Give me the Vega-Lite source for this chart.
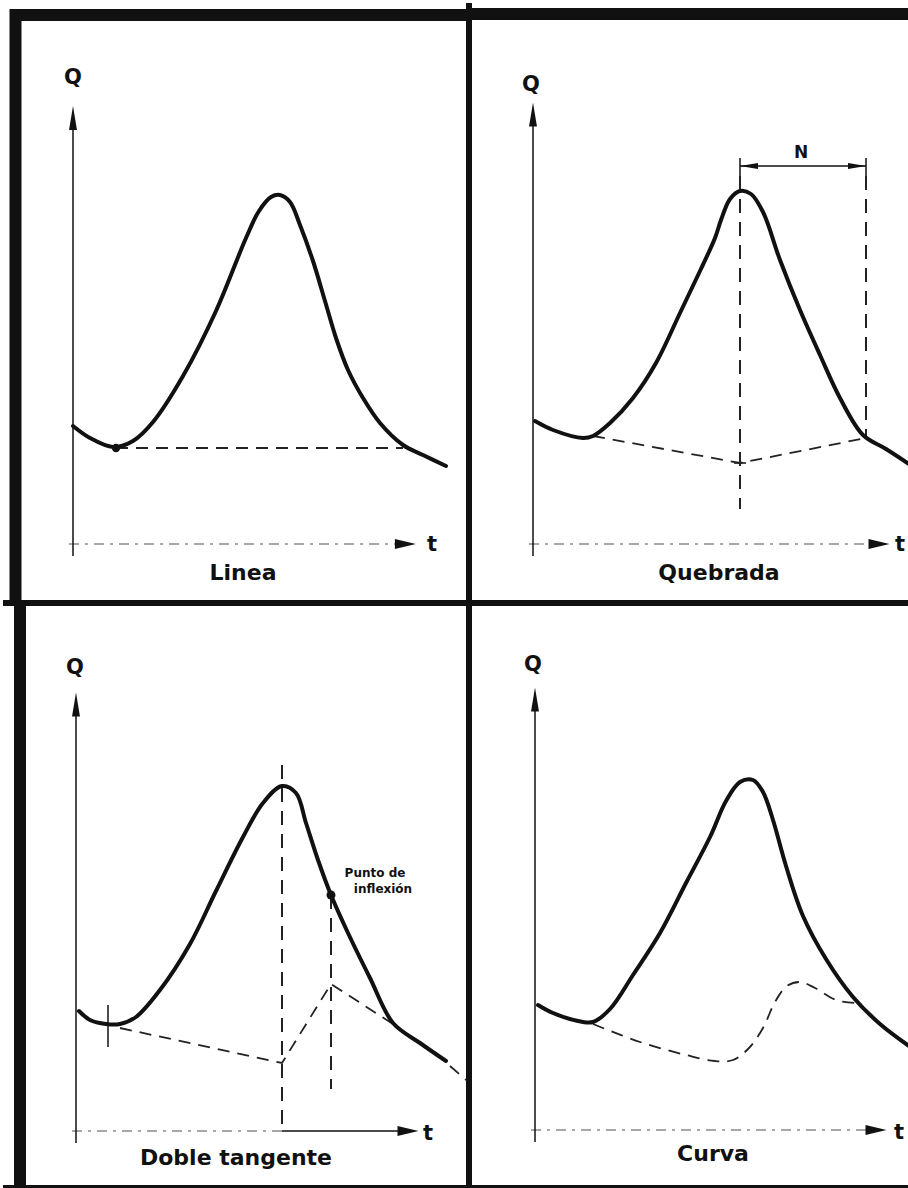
{
  "$schema": "https://vega.github.io/schema/vega-lite/v6.json",
  "autosize": {"type": "pad"},
  "padding": 0,
  "background": "white",
  "config": {"view": {"stroke": null}, "concat": {"spacing": 0}},
  "datasets": {
    "d": [
      {"p":"A","k":"f12","t":-15.75,"t2":99,"Q":132.25,"Q2":132.25},
      {"p":"A","k":"f12","t":-14.375,"t2":-14.375,"Q":133.75,"Q2":-14.75},
      {"p":"A","k":"f6","t":99,"t2":99,"Q":135.25,"Q2":-14.75},
      {"p":"A","k":"f6","t":-17.5,"t2":99,"Q":-14.75,"Q2":-14.75},
      {"p":"A","k":"ax","t":0,"t2":0,"Q":-3,"Q2":106},
      {"p":"A","k":"ta","t":-1,"t2":82,"Q":0,"Q2":0},
      {"p":"A","k":"up","t":0,"Q":106.5},
      {"p":"A","k":"rt","t":83.1,"Q":0},
      {"p":"A","k":"ds","s":1,"t":10.75,"Q":24},
      {"p":"A","k":"ds","s":1,"t":82.5,"Q":24},
      {"p":"A","k":"dot","t":10.75,"Q":24},
      {"p":"A","k":"lab","t":0,"Q":116.5,"txt":"Q"},
      {"p":"A","k":"lab","t":89.75,"Q":-0.25,"txt":"t"},
      {"p":"A","k":"ttl","t":42.5,"Q":-7.25,"txt":"Linea"},
      {"p":"A","k":"cv","s":1,"t":0,"Q":29.5},
      {"p":"A","k":"cv","s":1,"t":4.25,"Q":26.5},
      {"p":"A","k":"cv","s":1,"t":10,"Q":24.25},
      {"p":"A","k":"cv","s":1,"t":15,"Q":25.75},
      {"p":"A","k":"cv","s":1,"t":20,"Q":30.5},
      {"p":"A","k":"cv","s":1,"t":27.5,"Q":42},
      {"p":"A","k":"cv","s":1,"t":35.75,"Q":58.25},
      {"p":"A","k":"cv","s":1,"t":43.25,"Q":76.5},
      {"p":"A","k":"cv","s":1,"t":46.5,"Q":83.25},
      {"p":"A","k":"cv","s":1,"t":49.5,"Q":86.75},
      {"p":"A","k":"cv","s":1,"t":51.75,"Q":87.25},
      {"p":"A","k":"cv","s":1,"t":54.25,"Q":85.5},
      {"p":"A","k":"cv","s":1,"t":56.75,"Q":79.75},
      {"p":"A","k":"cv","s":1,"t":60,"Q":70.75},
      {"p":"A","k":"cv","s":1,"t":63,"Q":60.75},
      {"p":"A","k":"cv","s":1,"t":65.75,"Q":51.5},
      {"p":"A","k":"cv","s":1,"t":68.75,"Q":43.5},
      {"p":"A","k":"cv","s":1,"t":72.5,"Q":36.5},
      {"p":"A","k":"cv","s":1,"t":76.75,"Q":30.25},
      {"p":"A","k":"cv","s":1,"t":82.5,"Q":24.75},
      {"p":"A","k":"cv","s":1,"t":87.5,"Q":22.25},
      {"p":"A","k":"cv","s":1,"t":93.25,"Q":19.5},

      {"p":"B","k":"f12","t":-16,"t2":94.5,"Q":132.5,"Q2":132.5},
      {"p":"B","k":"f6","t":-16,"t2":94.5,"Q":-14.75,"Q2":-14.75},
      {"p":"B","k":"ax","t":0,"t2":0,"Q":-3,"Q2":107},
      {"p":"B","k":"ax","t":51.75,"t2":83.25,"Q":94.5,"Q2":94.5},
      {"p":"B","k":"ax","t":51.75,"t2":51.75,"Q":92,"Q2":96.5},
      {"p":"B","k":"ax","t":83.25,"t2":83.25,"Q":92,"Q2":96.5},
      {"p":"B","k":"ax","t":50.25,"t2":53.25,"Q":20.25,"Q2":20.25},
      {"p":"B","k":"vd","t":51.75,"t2":51.75,"Q":92,"Q2":8.75},
      {"p":"B","k":"vd","t":83.25,"t2":83.25,"Q":92,"Q2":26.5},
      {"p":"B","k":"ta","t":-1,"t2":84,"Q":0,"Q2":0},
      {"p":"B","k":"up","t":0,"Q":107.4},
      {"p":"B","k":"rt","t":86.5,"Q":0},
      {"p":"B","k":"lf","t":54,"Q":94.5},
      {"p":"B","k":"rn","t":81,"Q":94.5},
      {"p":"B","k":"ds","s":1,"t":15,"Q":27},
      {"p":"B","k":"ds","s":1,"t":51.75,"Q":20.25},
      {"p":"B","k":"ds","s":1,"t":83.25,"Q":26.5},
      {"p":"B","k":"lab","t":-0.5,"Q":114.75,"txt":"Q"},
      {"p":"B","k":"lab","t":91.75,"Q":-0.25,"txt":"t"},
      {"p":"B","k":"lb2","t":67,"Q":97.75,"txt":"N"},
      {"p":"B","k":"ttl","t":46.5,"Q":-7.25,"txt":"Quebrada"},
      {"p":"B","k":"cv","s":1,"t":0.5,"Q":30.75},
      {"p":"B","k":"cv","s":1,"t":5,"Q":28.5},
      {"p":"B","k":"cv","s":1,"t":12.5,"Q":26.5},
      {"p":"B","k":"cv","s":1,"t":15,"Q":27},
      {"p":"B","k":"cv","s":1,"t":19.25,"Q":30.25},
      {"p":"B","k":"cv","s":1,"t":25,"Q":36.5},
      {"p":"B","k":"cv","s":1,"t":30.75,"Q":45.25},
      {"p":"B","k":"cv","s":1,"t":36.75,"Q":57.75},
      {"p":"B","k":"cv","s":1,"t":41.75,"Q":68.25},
      {"p":"B","k":"cv","s":1,"t":45.5,"Q":76.5},
      {"p":"B","k":"cv","s":1,"t":47,"Q":81},
      {"p":"B","k":"cv","s":1,"t":49.25,"Q":86.25},
      {"p":"B","k":"cv","s":1,"t":51.75,"Q":88.25},
      {"p":"B","k":"cv","s":1,"t":54.5,"Q":87.5},
      {"p":"B","k":"cv","s":1,"t":57.5,"Q":83},
      {"p":"B","k":"cv","s":1,"t":61.75,"Q":71},
      {"p":"B","k":"cv","s":1,"t":66.75,"Q":58.5},
      {"p":"B","k":"cv","s":1,"t":71.75,"Q":47.25},
      {"p":"B","k":"cv","s":1,"t":76.75,"Q":36.5},
      {"p":"B","k":"cv","s":1,"t":82.5,"Q":27.25},
      {"p":"B","k":"cv","s":1,"t":88.25,"Q":23.75},
      {"p":"B","k":"cv","s":1,"t":94,"Q":20},

      {"p":"C","k":"f12","t":-14,"t2":-14,"Q":132,"Q2":-15},
      {"p":"C","k":"f6","t":98.25,"t2":98.25,"Q":132,"Q2":-15},
      {"p":"C","k":"f6","t":-18.25,"t2":98.25,"Q":-14.25,"Q2":-14.25},
      {"p":"C","k":"ax","t":0,"t2":0,"Q":-3,"Q2":106},
      {"p":"C","k":"ax","t":8,"t2":8,"Q":21,"Q2":31.5},
      {"p":"C","k":"ax","t":51.5,"t2":81,"Q":0,"Q2":0},
      {"p":"C","k":"vd","t":51.5,"t2":51.5,"Q":91.5,"Q2":0},
      {"p":"C","k":"vd","t":63.75,"t2":63.75,"Q":59,"Q2":10.5},
      {"p":"C","k":"ta","t":-1,"t2":51.5,"Q":0,"Q2":0},
      {"p":"C","k":"up","t":0,"Q":106.6},
      {"p":"C","k":"rt","t":83,"Q":0},
      {"p":"C","k":"ds","s":1,"t":11,"Q":25.75},
      {"p":"C","k":"ds","s":1,"t":51.5,"Q":17},
      {"p":"C","k":"ds","s":1,"t":63.75,"Q":36.75},
      {"p":"C","k":"ds","s":1,"t":79.25,"Q":26.75},
      {"p":"C","k":"ds","s":2,"t":93.5,"Q":16.25},
      {"p":"C","k":"ds","s":2,"t":97.5,"Q":12.75},
      {"p":"C","k":"dot","t":63.75,"Q":59},
      {"p":"C","k":"lab","t":-0.25,"Q":115.75,"txt":"Q"},
      {"p":"C","k":"lab","t":88,"Q":-0.75,"txt":"t"},
      {"p":"C","k":"nt","t":74.75,"Q":64.5,"txt":"Punto de"},
      {"p":"C","k":"nt","t":76.75,"Q":60.5,"txt":"inflexión"},
      {"p":"C","k":"ttl","t":40,"Q":-6.75,"txt":"Doble tangente"},
      {"p":"C","k":"cv","s":1,"t":0.75,"Q":30},
      {"p":"C","k":"cv","s":1,"t":3.5,"Q":27.75},
      {"p":"C","k":"cv","s":1,"t":7.5,"Q":26.75},
      {"p":"C","k":"cv","s":1,"t":11,"Q":26.75},
      {"p":"C","k":"cv","s":1,"t":15,"Q":28.5},
      {"p":"C","k":"cv","s":1,"t":21,"Q":35.25},
      {"p":"C","k":"cv","s":1,"t":28.5,"Q":46.75},
      {"p":"C","k":"cv","s":1,"t":35,"Q":60},
      {"p":"C","k":"cv","s":1,"t":41.75,"Q":73.5},
      {"p":"C","k":"cv","s":1,"t":46.75,"Q":82},
      {"p":"C","k":"cv","s":1,"t":51.5,"Q":86.25},
      {"p":"C","k":"cv","s":1,"t":55,"Q":84.5},
      {"p":"C","k":"cv","s":1,"t":57.5,"Q":77},
      {"p":"C","k":"cv","s":1,"t":60.5,"Q":67.75},
      {"p":"C","k":"cv","s":1,"t":63.75,"Q":59},
      {"p":"C","k":"cv","s":1,"t":68,"Q":49.5},
      {"p":"C","k":"cv","s":1,"t":73.5,"Q":38.25},
      {"p":"C","k":"cv","s":1,"t":79.25,"Q":27},
      {"p":"C","k":"cv","s":1,"t":86,"Q":22},
      {"p":"C","k":"cv","s":1,"t":92.5,"Q":17.5},

      {"p":"D","k":"f6","t":-16.5,"t2":94,"Q":-14.5,"Q2":-14.5},
      {"p":"D","k":"ax","t":0,"t2":0,"Q":-3,"Q2":107},
      {"p":"D","k":"ta","t":-1,"t2":83,"Q":0,"Q2":0},
      {"p":"D","k":"up","t":0,"Q":107.6},
      {"p":"D","k":"rt","t":85.25,"Q":0},
      {"p":"D","k":"lab","t":-0.5,"Q":116.25,"txt":"Q"},
      {"p":"D","k":"lab","t":91,"Q":-0.75,"txt":"t"},
      {"p":"D","k":"ttl","t":44.5,"Q":-6,"txt":"Curva"},
      {"p":"D","k":"ds","s":1,"t":14.5,"Q":26.5},
      {"p":"D","k":"ds","s":1,"t":26.25,"Q":22},
      {"p":"D","k":"ds","s":1,"t":37.75,"Q":18.75},
      {"p":"D","k":"ds","s":1,"t":45,"Q":17.25},
      {"p":"D","k":"ds","s":1,"t":49.5,"Q":17.5},
      {"p":"D","k":"ds","s":1,"t":53.5,"Q":20.5},
      {"p":"D","k":"ds","s":1,"t":57,"Q":25.5},
      {"p":"D","k":"ds","s":1,"t":60,"Q":32},
      {"p":"D","k":"ds","s":1,"t":63,"Q":36},
      {"p":"D","k":"ds","s":1,"t":66.25,"Q":37},
      {"p":"D","k":"ds","s":1,"t":70,"Q":35.5},
      {"p":"D","k":"ds","s":1,"t":75.25,"Q":32.5},
      {"p":"D","k":"ds","s":1,"t":80,"Q":31.75},
      {"p":"D","k":"cv","s":1,"t":0.75,"Q":31.25},
      {"p":"D","k":"cv","s":1,"t":4.5,"Q":29.25},
      {"p":"D","k":"cv","s":1,"t":12,"Q":27},
      {"p":"D","k":"cv","s":1,"t":14.5,"Q":27},
      {"p":"D","k":"cv","s":1,"t":18.75,"Q":30.25},
      {"p":"D","k":"cv","s":1,"t":24.5,"Q":38.75},
      {"p":"D","k":"cv","s":1,"t":31.25,"Q":49.25},
      {"p":"D","k":"cv","s":1,"t":37.75,"Q":61.75},
      {"p":"D","k":"cv","s":1,"t":43.75,"Q":73.25},
      {"p":"D","k":"cv","s":1,"t":47.75,"Q":82.25},
      {"p":"D","k":"cv","s":1,"t":51.25,"Q":87},
      {"p":"D","k":"cv","s":1,"t":54.5,"Q":87.5},
      {"p":"D","k":"cv","s":1,"t":57,"Q":84.5},
      {"p":"D","k":"cv","s":1,"t":59.5,"Q":77.5},
      {"p":"D","k":"cv","s":1,"t":62.75,"Q":66},
      {"p":"D","k":"cv","s":1,"t":67,"Q":53.5},
      {"p":"D","k":"cv","s":1,"t":72.75,"Q":42.75},
      {"p":"D","k":"cv","s":1,"t":79.5,"Q":33.25},
      {"p":"D","k":"cv","s":1,"t":86.25,"Q":26.5},
      {"p":"D","k":"cv","s":1,"t":93.5,"Q":21}
    ]
  },
  "columns": 2,
  "spacing": 0,
  "bounds": "flush",
  "concat": [
    {
      "width": 466, "height": 600,
      "data": {"name": "d"},
      "transform": [{"filter": "datum.p === 'A'"}],
      "encoding": {
        "x": {"field": "t", "type": "quantitative", "scale": {"domain": [-17.5, 99], "nice": false, "zero": false}, "axis": null},
        "y": {"field": "Q", "type": "quantitative", "scale": {"domain": [-14.75, 135.25], "nice": false, "zero": false}, "axis": null}
      },
      "layer": [
        {"transform": [{"filter": "datum.k === 'f12'"}], "mark": {"type": "rule", "strokeWidth": 12, "color": "#111", "strokeCap": "butt"}, "encoding": {"x2": {"field": "t2"}, "y2": {"field": "Q2"}}},
        {"transform": [{"filter": "datum.k === 'f6'"}], "mark": {"type": "rule", "strokeWidth": 6, "color": "#111", "strokeCap": "butt"}, "encoding": {"x2": {"field": "t2"}, "y2": {"field": "Q2"}}},
        {"transform": [{"filter": "datum.k === 'ta'"}], "mark": {"type": "rule", "strokeWidth": 1.5, "color": "#8a8a8a", "strokeDash": [10, 6, 3, 6]}, "encoding": {"x2": {"field": "t2"}, "y2": {"field": "Q2"}}},
        {"transform": [{"filter": "datum.k === 'ax'"}], "mark": {"type": "rule", "strokeWidth": 1.5, "color": "#111"}, "encoding": {"x2": {"field": "t2"}, "y2": {"field": "Q2"}}},
        {"transform": [{"filter": "datum.k === 'ds'"}], "mark": {"type": "line", "strokeWidth": 1.8, "color": "#222", "strokeDash": [12, 8]}, "encoding": {"detail": {"field": "s", "type": "nominal"}}},
        {"transform": [{"filter": "datum.k === 'cv'"}], "mark": {"type": "line", "strokeWidth": 4, "color": "#111", "interpolate": "catmull-rom", "strokeCap": "round"}, "encoding": {"detail": {"field": "s", "type": "nominal"}}},
        {"transform": [{"filter": "datum.k === 'up'"}], "mark": {"type": "point", "shape": "M0,-1L0.33,1L-0.33,1Z", "size": 576, "filled": true, "color": "#111", "opacity": 1}},
        {"transform": [{"filter": "datum.k === 'rt'"}], "mark": {"type": "point", "shape": "M1,0L-1,-0.48L-1,0.48Z", "size": 441, "filled": true, "color": "#111", "opacity": 1}},
        {"transform": [{"filter": "datum.k === 'dot'"}], "mark": {"type": "point", "shape": "circle", "size": 70, "filled": true, "color": "#111", "opacity": 1}},
        {"transform": [{"filter": "datum.k === 'lab'"}], "mark": {"type": "text", "font": "DejaVu Sans", "fontWeight": "bold", "fontSize": 21, "color": "#111", "baseline": "middle", "align": "center"}, "encoding": {"text": {"field": "txt", "type": "nominal"}}},
        {"transform": [{"filter": "datum.k === 'ttl'"}], "mark": {"type": "text", "font": "DejaVu Sans", "fontWeight": "bold", "fontSize": 22, "color": "#111", "baseline": "middle", "align": "center"}, "encoding": {"text": {"field": "txt", "type": "nominal"}}}
      ]
    },
    {
      "width": 442, "height": 600,
      "data": {"name": "d"},
      "transform": [{"filter": "datum.p === 'B'"}],
      "encoding": {
        "x": {"field": "t", "type": "quantitative", "scale": {"domain": [-16, 94.5], "nice": false, "zero": false}, "axis": null},
        "y": {"field": "Q", "type": "quantitative", "scale": {"domain": [-14.75, 135.25], "nice": false, "zero": false}, "axis": null}
      },
      "layer": [
        {"transform": [{"filter": "datum.k === 'f12'"}], "mark": {"type": "rule", "strokeWidth": 12, "color": "#111", "strokeCap": "butt"}, "encoding": {"x2": {"field": "t2"}, "y2": {"field": "Q2"}}},
        {"transform": [{"filter": "datum.k === 'f6'"}], "mark": {"type": "rule", "strokeWidth": 6, "color": "#111", "strokeCap": "butt"}, "encoding": {"x2": {"field": "t2"}, "y2": {"field": "Q2"}}},
        {"transform": [{"filter": "datum.k === 'ta'"}], "mark": {"type": "rule", "strokeWidth": 1.5, "color": "#8a8a8a", "strokeDash": [10, 6, 3, 6]}, "encoding": {"x2": {"field": "t2"}, "y2": {"field": "Q2"}}},
        {"transform": [{"filter": "datum.k === 'ax'"}], "mark": {"type": "rule", "strokeWidth": 1.5, "color": "#111"}, "encoding": {"x2": {"field": "t2"}, "y2": {"field": "Q2"}}},
        {"transform": [{"filter": "datum.k === 'vd'"}], "mark": {"type": "rule", "strokeWidth": 2, "color": "#222", "strokeDash": [14, 9]}, "encoding": {"x2": {"field": "t2"}, "y2": {"field": "Q2"}}},
        {"transform": [{"filter": "datum.k === 'ds'"}], "mark": {"type": "line", "strokeWidth": 1.8, "color": "#222", "strokeDash": [12, 8]}, "encoding": {"detail": {"field": "s", "type": "nominal"}}},
        {"transform": [{"filter": "datum.k === 'cv'"}], "mark": {"type": "line", "strokeWidth": 4, "color": "#111", "interpolate": "catmull-rom", "strokeCap": "round"}, "encoding": {"detail": {"field": "s", "type": "nominal"}}},
        {"transform": [{"filter": "datum.k === 'up'"}], "mark": {"type": "point", "shape": "M0,-1L0.33,1L-0.33,1Z", "size": 576, "filled": true, "color": "#111", "opacity": 1}},
        {"transform": [{"filter": "datum.k === 'rt'"}], "mark": {"type": "point", "shape": "M1,0L-1,-0.48L-1,0.48Z", "size": 441, "filled": true, "color": "#111", "opacity": 1}},
        {"transform": [{"filter": "datum.k === 'lf'"}], "mark": {"type": "point", "shape": "M-1,0L1,-0.33L1,0.33Z", "size": 324, "filled": true, "color": "#111", "opacity": 1}},
        {"transform": [{"filter": "datum.k === 'rn'"}], "mark": {"type": "point", "shape": "M1,0L-1,-0.33L-1,0.33Z", "size": 324, "filled": true, "color": "#111", "opacity": 1}},
        {"transform": [{"filter": "datum.k === 'lab'"}], "mark": {"type": "text", "font": "DejaVu Sans", "fontWeight": "bold", "fontSize": 21, "color": "#111", "baseline": "middle", "align": "center"}, "encoding": {"text": {"field": "txt", "type": "nominal"}}},
        {"transform": [{"filter": "datum.k === 'lb2'"}], "mark": {"type": "text", "font": "DejaVu Sans", "fontWeight": "bold", "fontSize": 17, "color": "#111", "baseline": "middle", "align": "center"}, "encoding": {"text": {"field": "txt", "type": "nominal"}}},
        {"transform": [{"filter": "datum.k === 'ttl'"}], "mark": {"type": "text", "font": "DejaVu Sans", "fontWeight": "bold", "fontSize": 22, "color": "#111", "baseline": "middle", "align": "center"}, "encoding": {"text": {"field": "txt", "type": "nominal"}}}
      ]
    },
    {
      "width": 466, "height": 588,
      "data": {"name": "d"},
      "transform": [{"filter": "datum.p === 'C'"}],
      "encoding": {
        "x": {"field": "t", "type": "quantitative", "scale": {"domain": [-18.25, 98.25], "nice": false, "zero": false}, "axis": null},
        "y": {"field": "Q", "type": "quantitative", "scale": {"domain": [-15, 132], "nice": false, "zero": false}, "axis": null}
      },
      "layer": [
        {"transform": [{"filter": "datum.k === 'f12'"}], "mark": {"type": "rule", "strokeWidth": 12, "color": "#111", "strokeCap": "butt"}, "encoding": {"x2": {"field": "t2"}, "y2": {"field": "Q2"}}},
        {"transform": [{"filter": "datum.k === 'f6'"}], "mark": {"type": "rule", "strokeWidth": 6, "color": "#111", "strokeCap": "butt"}, "encoding": {"x2": {"field": "t2"}, "y2": {"field": "Q2"}}},
        {"transform": [{"filter": "datum.k === 'ta'"}], "mark": {"type": "rule", "strokeWidth": 1.5, "color": "#8a8a8a", "strokeDash": [10, 6, 3, 6]}, "encoding": {"x2": {"field": "t2"}, "y2": {"field": "Q2"}}},
        {"transform": [{"filter": "datum.k === 'ax'"}], "mark": {"type": "rule", "strokeWidth": 1.5, "color": "#111"}, "encoding": {"x2": {"field": "t2"}, "y2": {"field": "Q2"}}},
        {"transform": [{"filter": "datum.k === 'vd'"}], "mark": {"type": "rule", "strokeWidth": 2, "color": "#222", "strokeDash": [14, 9]}, "encoding": {"x2": {"field": "t2"}, "y2": {"field": "Q2"}}},
        {"transform": [{"filter": "datum.k === 'ds'"}], "mark": {"type": "line", "strokeWidth": 1.8, "color": "#222", "strokeDash": [12, 8]}, "encoding": {"detail": {"field": "s", "type": "nominal"}}},
        {"transform": [{"filter": "datum.k === 'cv'"}], "mark": {"type": "line", "strokeWidth": 4, "color": "#111", "interpolate": "catmull-rom", "strokeCap": "round"}, "encoding": {"detail": {"field": "s", "type": "nominal"}}},
        {"transform": [{"filter": "datum.k === 'up'"}], "mark": {"type": "point", "shape": "M0,-1L0.33,1L-0.33,1Z", "size": 576, "filled": true, "color": "#111", "opacity": 1}},
        {"transform": [{"filter": "datum.k === 'rt'"}], "mark": {"type": "point", "shape": "M1,0L-1,-0.48L-1,0.48Z", "size": 441, "filled": true, "color": "#111", "opacity": 1}},
        {"transform": [{"filter": "datum.k === 'dot'"}], "mark": {"type": "point", "shape": "circle", "size": 80, "filled": true, "color": "#111", "opacity": 1}},
        {"transform": [{"filter": "datum.k === 'lab'"}], "mark": {"type": "text", "font": "DejaVu Sans", "fontWeight": "bold", "fontSize": 21, "color": "#111", "baseline": "middle", "align": "center"}, "encoding": {"text": {"field": "txt", "type": "nominal"}}},
        {"transform": [{"filter": "datum.k === 'nt'"}], "mark": {"type": "text", "font": "DejaVu Sans", "fontWeight": "bold", "fontSize": 12, "color": "#111", "baseline": "middle", "align": "center"}, "encoding": {"text": {"field": "txt", "type": "nominal"}}},
        {"transform": [{"filter": "datum.k === 'ttl'"}], "mark": {"type": "text", "font": "DejaVu Sans", "fontWeight": "bold", "fontSize": 22, "color": "#111", "baseline": "middle", "align": "center"}, "encoding": {"text": {"field": "txt", "type": "nominal"}}}
      ]
    },
    {
      "width": 442, "height": 588,
      "data": {"name": "d"},
      "transform": [{"filter": "datum.p === 'D'"}],
      "encoding": {
        "x": {"field": "t", "type": "quantitative", "scale": {"domain": [-16.5, 94], "nice": false, "zero": false}, "axis": null},
        "y": {"field": "Q", "type": "quantitative", "scale": {"domain": [-15.25, 131.75], "nice": false, "zero": false}, "axis": null}
      },
      "layer": [
        {"transform": [{"filter": "datum.k === 'f6'"}], "mark": {"type": "rule", "strokeWidth": 6, "color": "#111", "strokeCap": "butt"}, "encoding": {"x2": {"field": "t2"}, "y2": {"field": "Q2"}}},
        {"transform": [{"filter": "datum.k === 'ta'"}], "mark": {"type": "rule", "strokeWidth": 1.5, "color": "#8a8a8a", "strokeDash": [10, 6, 3, 6]}, "encoding": {"x2": {"field": "t2"}, "y2": {"field": "Q2"}}},
        {"transform": [{"filter": "datum.k === 'ax'"}], "mark": {"type": "rule", "strokeWidth": 1.5, "color": "#111"}, "encoding": {"x2": {"field": "t2"}, "y2": {"field": "Q2"}}},
        {"transform": [{"filter": "datum.k === 'ds'"}], "mark": {"type": "line", "strokeWidth": 1.8, "color": "#222", "strokeDash": [12, 8], "interpolate": "catmull-rom"}, "encoding": {"detail": {"field": "s", "type": "nominal"}}},
        {"transform": [{"filter": "datum.k === 'cv'"}], "mark": {"type": "line", "strokeWidth": 4, "color": "#111", "interpolate": "catmull-rom", "strokeCap": "round"}, "encoding": {"detail": {"field": "s", "type": "nominal"}}},
        {"transform": [{"filter": "datum.k === 'up'"}], "mark": {"type": "point", "shape": "M0,-1L0.33,1L-0.33,1Z", "size": 576, "filled": true, "color": "#111", "opacity": 1}},
        {"transform": [{"filter": "datum.k === 'rt'"}], "mark": {"type": "point", "shape": "M1,0L-1,-0.48L-1,0.48Z", "size": 441, "filled": true, "color": "#111", "opacity": 1}},
        {"transform": [{"filter": "datum.k === 'lab'"}], "mark": {"type": "text", "font": "DejaVu Sans", "fontWeight": "bold", "fontSize": 21, "color": "#111", "baseline": "middle", "align": "center"}, "encoding": {"text": {"field": "txt", "type": "nominal"}}},
        {"transform": [{"filter": "datum.k === 'ttl'"}], "mark": {"type": "text", "font": "DejaVu Sans", "fontWeight": "bold", "fontSize": 22, "color": "#111", "baseline": "middle", "align": "center"}, "encoding": {"text": {"field": "txt", "type": "nominal"}}}
      ]
    }
  ]
}
